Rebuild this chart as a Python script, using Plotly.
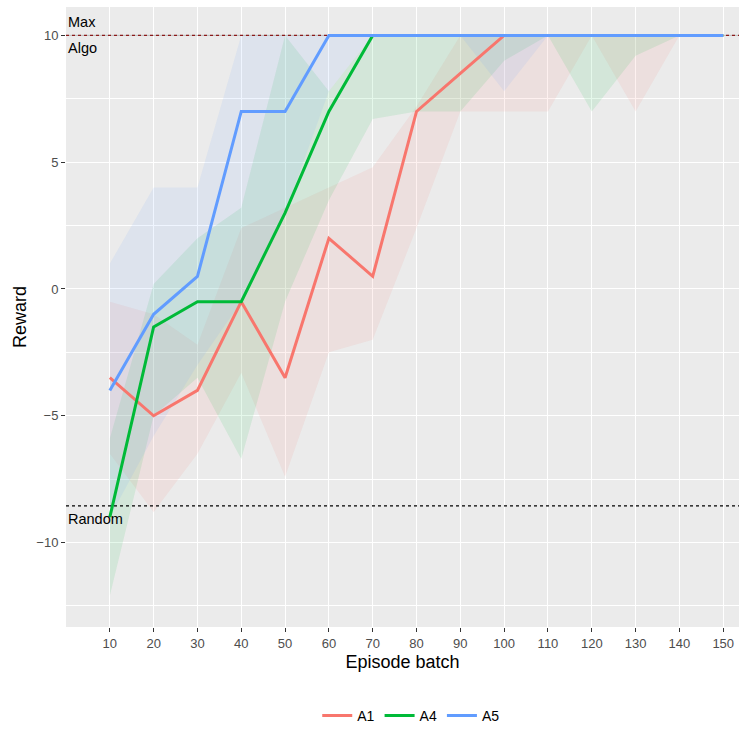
import plotly.graph_objects as go

episodes = [10, 20, 30, 40, 50, 60, 70, 80, 90, 100, 110, 120, 130, 140, 150]

a1_mean = [-3.5, -5.0, -4.0, -0.5, -3.5, 2.0, 0.5, 7.0, 8.5, 10, 10, 10, 10, 10, 10]
a1_low = [-6.5, -8.8, -6.5, -3.3, -7.4, -2.5, -2.0, 2.4, 7.0, 7.0, 7.0, 10, 7.0, 10, 10]
a1_high = [-0.5, -1.0, -2.2, 2.4, 3.2, 4.0, 4.8, 7.2, 10, 10, 10, 10, 10, 10, 10]

a4_mean = [-9.0, -1.5, -0.5, -0.5, 3.0, 7.0, 10, 10, 10, 10, 10, 10, 10, 10, 10]
a4_low = [-12.1, -5.0, -3.5, -6.7, -0.5, 3.5, 6.7, 7.0, 7.0, 9.0, 10, 7.0, 9.2, 10, 10]
a4_high = [-5.9, 0.2, 2.0, 3.2, 10, 7.8, 10, 10, 10, 10, 10, 10, 10, 10, 10]

a5_mean = [-4.0, -1.0, 0.5, 7.0, 7.0, 10, 10, 10, 10, 10, 10, 10, 10, 10, 10]
a5_low = [-9.0, -5.8, -3.0, -0.5, 3.0, 7.8, 10, 10, 10, 7.8, 10, 10, 10, 10, 10]
a5_high = [1.0, 4.0, 4.0, 10, 10, 10, 10, 10, 10, 10, 10, 10, 10, 10, 10]

series = [
    ("A1", a1_mean, a1_low, a1_high, "#F8766D", "rgba(248,118,109,0.1)"),
    ("A4", a4_mean, a4_low, a4_high, "#00BA38", "rgba(0,186,56,0.1)"),
    ("A5", a5_mean, a5_low, a5_high, "#619CFF", "rgba(97,156,255,0.1)"),
]

max_reward = 10
random_reward = -8.55

fig = go.Figure()

for name, mean, low, high, col, fcol in series:
    fig.add_trace(go.Scatter(x=episodes, y=low, mode="lines", line=dict(width=0),
                             showlegend=False, hoverinfo="skip"))
    fig.add_trace(go.Scatter(x=episodes, y=high, mode="lines", line=dict(width=0),
                             fill="tonexty", fillcolor=fcol, showlegend=False, hoverinfo="skip"))

# reference lines
fig.add_trace(go.Scatter(x=[0, 153.6], y=[max_reward, max_reward], mode="lines",
                         line=dict(color="#8c8c8c", width=0.6), showlegend=False, hoverinfo="skip"))
fig.add_trace(go.Scatter(x=[0, 153.6], y=[max_reward, max_reward], mode="lines",
                         line=dict(color="#8B1A1A", width=1.3, dash="dot"), showlegend=False, hoverinfo="skip"))
fig.add_trace(go.Scatter(x=[0, 153.6], y=[random_reward, random_reward], mode="lines",
                         line=dict(color="black", width=1.3, dash="dot"), showlegend=False, hoverinfo="skip"))

for name, mean, low, high, col, fcol in series:
    fig.add_trace(go.Scatter(x=episodes, y=mean, mode="lines", name=name,
                             line=dict(color=col, width=3)))

fig.add_annotation(x=0, y=max_reward, text="Max", showarrow=False, xanchor="left",
                   yanchor="bottom", yshift=3, font=dict(size=14.5, color="black"))
fig.add_annotation(x=0, y=max_reward, text="Algo", showarrow=False, xanchor="left",
                   yanchor="top", yshift=-3, font=dict(size=14.5, color="black"))
fig.add_annotation(x=0, y=random_reward, text="Random", showarrow=False, xanchor="left",
                   yanchor="top", yshift=-3, font=dict(size=14.5, color="black"))

fig.update_layout(
    width=739, height=733,
    margin=dict(l=66, r=0, t=7, b=106, autoexpand=False),
    paper_bgcolor="white", plot_bgcolor="#EBEBEB",
    font=dict(family="Liberation Sans, Arial, sans-serif", size=12, color="#4D4D4D"),
    showlegend=True,
    legend=dict(orientation="h", x=0.513, xanchor="center", y=-0.1435, yanchor="middle",
                traceorder="normal",
                font=dict(size=14, color="black"), bgcolor="rgba(0,0,0,0)"),
)
fig.update_xaxes(range=[0, 153.6], tickvals=episodes, ticks="outside", ticklen=4,
                 tickcolor="#333333", tickwidth=1, showgrid=True, gridcolor="white", gridwidth=1.2,
                 zeroline=False, showline=False, tickfont=dict(size=13, color="#4D4D4D"),
                 automargin=False,
                 title=dict(text="Episode batch", font=dict(size=18, color="black"), standoff=5))
fig.update_yaxes(range=[-13.33, 11.12], tickvals=[-10, -5, 0, 5, 10], ticks="outside", ticklen=4,
                 tickcolor="#333333", tickwidth=1, showgrid=True, gridcolor="white", gridwidth=1.2,
                 minor=dict(tickvals=[-12.5, -7.5, -2.5, 2.5, 7.5], showgrid=True, gridcolor="white",
                            gridwidth=0.6, ticks=""),
                 zeroline=False, showline=False, tickfont=dict(size=13, color="#4D4D4D"),
                 automargin=False,
                 title=dict(text="Reward", font=dict(size=18, color="black"), standoff=5))

fig.write_html("out.html", config={"displayModeBar": False},
               post_script="document.body.style.margin='0';document.body.style.overflow='hidden';")
